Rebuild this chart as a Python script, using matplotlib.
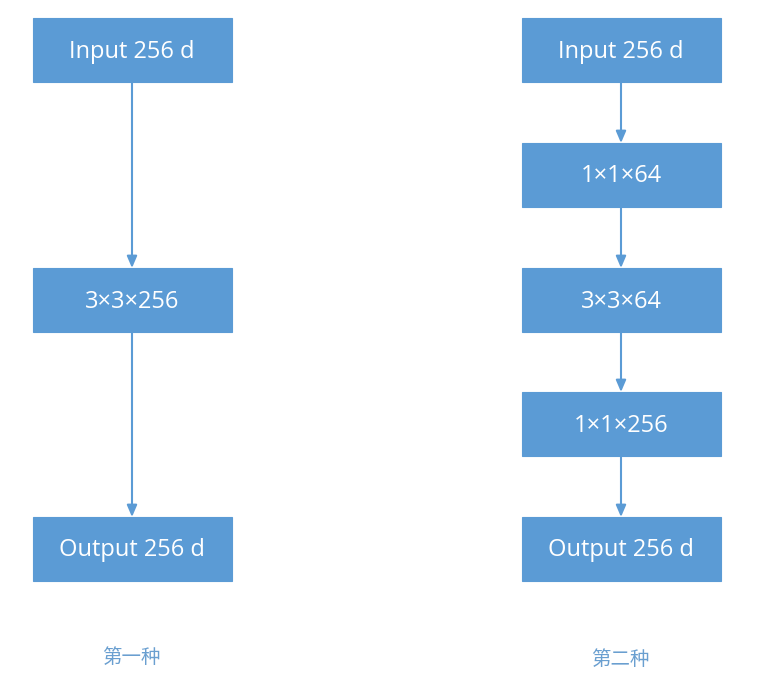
import matplotlib
matplotlib.use("Agg")
import matplotlib.pyplot as plt
from matplotlib.patches import Rectangle

# Data
left_labels = ["Input 256 d", "3×3×256", "Output 256 d"]
left_rows = [0, 2, 4]
right_labels = ["Input 256 d", "1×1×64", "3×3×64", "1×1×256", "Output 256 d"]
right_rows = [0, 1, 2, 3, 4]
captions = ["第一种", "第二种"]

plt.rcParams['font.family'] = ['Open Sans', 'Noto Sans CJK SC', 'DejaVu Sans']

BOX = "#5B9BD5"
W, H = 760, 680
fig = plt.figure(figsize=(W/100, H/100), dpi=100)
ax = fig.add_axes([0, 0, 1, 1])
ax.set_xlim(0, W)
ax.set_ylim(H, 0)
ax.axis('off')

col_x = [132, 621]
row_top = [18, 143, 268, 392, 517]
box_w, box_h = 199, 64

def draw_column(cx, labels, rows):
    for lab, r in zip(labels, rows):
        y0 = row_top[r]
        ax.add_patch(Rectangle((cx - box_w/2, y0), box_w, box_h,
                               facecolor=BOX, edgecolor=BOX, lw=0.8, zorder=2))
        ax.text(cx, y0 + box_h/2 + 1.5, lab, color="white", fontsize=17,
                ha="center", va="center", zorder=3)
    for r1, r2 in zip(rows[:-1], rows[1:]):
        ax.annotate("", xy=(cx, row_top[r2]), xytext=(cx, row_top[r1] + box_h),
                    arrowprops=dict(arrowstyle="-|>,head_length=0.7,head_width=0.3",
                                    color=BOX, lw=1.5, shrinkA=0, shrinkB=0),
                    zorder=1)

draw_column(col_x[0], left_labels, left_rows)
draw_column(col_x[1], right_labels, right_rows)

ax.text(131, 657, captions[0], color="#6A9FD0", fontsize=14,
        ha="center", va="center", family=['Noto Sans CJK SC', 'DejaVu Sans'])
ax.text(620, 659, captions[1], color="#6A9FD0", fontsize=14,
        ha="center", va="center", family=['Noto Sans CJK SC', 'DejaVu Sans'])

fig.savefig("out.png", dpi=100, facecolor="white")
